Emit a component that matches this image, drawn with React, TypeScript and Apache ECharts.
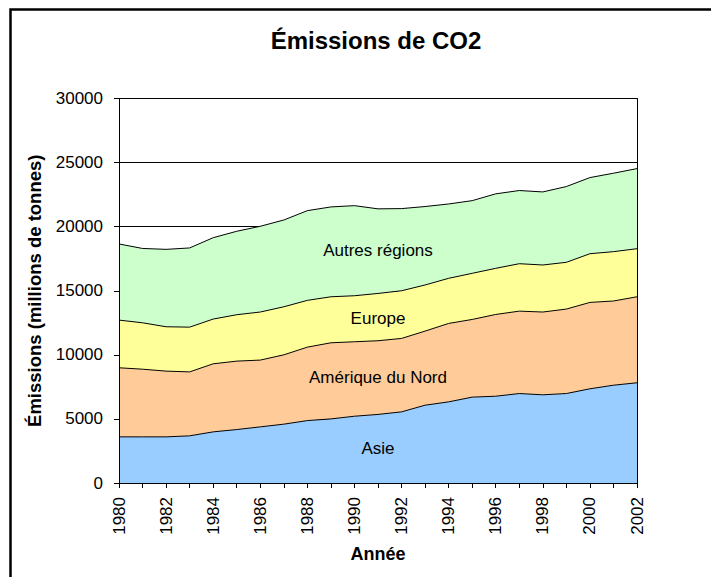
import React, { useEffect, useRef } from "react";
import * as echarts from "echarts";

const years = [
  "1980", "1981", "1982", "1983", "1984", "1985", "1986", "1987", "1988", "1989", "1990", "1991",
  "1992", "1993", "1994", "1995", "1996", "1997", "1998", "1999", "2000", "2001", "2002",
];

// Emissions per region (millions de tonnes), stacked in the chart
const asie = [
  3600, 3600, 3600, 3680, 3990, 4170, 4380, 4590, 4870, 5000, 5210, 5350,
  5550, 6070, 6330, 6700, 6770, 6980, 6880, 6980, 7350, 7630, 7820,
];
const ameriqueNord = [
  5390, 5280, 5130, 4990, 5310, 5340, 5210, 5410, 5730, 5940, 5810, 5750,
  5730, 5780, 6120, 6060, 6380, 6430, 6460, 6590, 6740, 6570, 6710,
];
const europe = [
  3720, 3620, 3460, 3490, 3490, 3620, 3750, 3750, 3650, 3590, 3590, 3690,
  3720, 3600, 3520, 3600, 3600, 3700, 3670, 3650, 3800, 3850, 3750,
];
const autres = [
  5940, 5800, 6040, 6180, 6350, 6510, 6690, 6770, 7000, 7010, 7030, 6600,
  6410, 6120, 5800, 5670, 5810, 5710, 5700, 5910, 5940, 6120, 6250,
];

const seriesNames = ["Asie", "Amérique du Nord", "Europe", "Autres régions"];
const seriesColors = ["#99CCFF", "#FFCC99", "#FFFF99", "#CCFFCC"];

// In-chart text annotations, anchored in data space (year, stacked value)
const areaLabelText = ["Autres régions", "Europe", "Amérique du Nord", "Asie"];
const areaLabelYear = ["1991", "1991", "1991", "1991"];
const areaLabelValue = [18150, 12800, 8200, 2700];

const FONT = "'Liberation Sans', Arial, sans-serif";

export default function App() {
  const ref = useRef<HTMLDivElement>(null);

  useEffect(() => {
    if (!ref.current) return;
    const chart = echarts.init(ref.current, undefined, { renderer: "svg" });
    const values = [asie, ameriqueNord, europe, autres];

    const frame = {
      type: "rect",
      shape: { x: 10.5, y: 9.5, width: 900, height: 800 },
      style: { fill: "none", stroke: "#000", lineWidth: 2.5 },
      z: 100,
    };
    const title = {
      type: "text",
      x: 376,
      y: 40,
      style: {
        text: "Émissions de CO2",
        font: `bold 24px ${FONT}`,
        fill: "#000",
        textAlign: "center",
        textVerticalAlign: "middle",
      },
      z: 100,
    };

    const option: any = {
      animation: false,
      backgroundColor: "#fff",
      textStyle: { fontFamily: FONT },
      grid: { left: 119, right: 74, top: 98.5, bottom: 94, containLabel: false },
      xAxis: {
        type: "category",
        data: years,
        boundaryGap: false,
        z: 10,
        name: "Année",
        nameLocation: "middle",
        nameGap: 62,
        nameTextStyle: { fontSize: 18, fontWeight: "bold", color: "#000", fontFamily: FONT },
        axisLine: { show: true, lineStyle: { color: "#000", width: 1 } },
        axisTick: { show: true, interval: 0, length: 5, lineStyle: { color: "#000" } },
        axisLabel: {
          interval: 1,
          rotate: 90,
          margin: 14,
          fontSize: 17,
          color: "#000",
          fontFamily: FONT,
        },
        splitLine: { show: false },
      },
      yAxis: [
        {
          type: "value",
          min: 0,
          max: 30000,
          interval: 5000,
          z: 0,
          axisLine: { show: false },
          axisTick: { show: false },
          axisLabel: { show: false },
          splitLine: { show: true, lineStyle: { color: "#000", width: 1 } },
        },
        {
          type: "value",
          position: "left",
          min: 0,
          max: 30000,
          interval: 5000,
          z: 10,
          name: "Émissions (millions de tonnes)",
          nameLocation: "middle",
          nameGap: 75,
          nameRotate: 90,
          nameTextStyle: { fontSize: 18.5, fontWeight: "bold", color: "#000", fontFamily: FONT },
          axisLine: { show: true, lineStyle: { color: "#000", width: 1 } },
          axisTick: { show: true, length: 5, lineStyle: { color: "#000" } },
          axisLabel: {
            margin: 16,
            fontSize: 17,
            color: "#000",
            fontFamily: FONT,
            formatter: (v: number) => String(v),
          },
          splitLine: { show: false },
        },
        {
          type: "value",
          position: "right",
          min: 0,
          max: 30000,
          interval: 5000,
          z: 10,
          axisLine: { show: true, lineStyle: { color: "#000", width: 1 } },
          axisTick: { show: false },
          axisLabel: { show: false },
          splitLine: { show: false },
        },
      ],
      series: seriesNames.map((name, i) => ({
        name,
        type: "line",
        stack: "total",
        yAxisIndex: 0,
        data: values[i],
        symbol: "none",
        smooth: false,
        lineStyle: { color: "#000", width: 1 },
        areaStyle: { color: seriesColors[i], opacity: 1 },
        itemStyle: { color: seriesColors[i] },
        z: 2,
      })),
      graphic: [frame, title],
    };

    chart.setOption(option);

    const labels = areaLabelText.map((text, i) => {
      const p = chart.convertToPixel({ xAxisIndex: 0, yAxisIndex: 0 }, [
        areaLabelYear[i],
        areaLabelValue[i],
      ]) as number[];
      return {
        type: "text",
        x: p[0],
        y: p[1],
        style: {
          text,
          font: `17px ${FONT}`,
          fill: "#000",
          textAlign: "center",
          textVerticalAlign: "middle",
        },
        z: 50,
      };
    });
    chart.setOption({ graphic: [frame, title, ...labels] });

    return () => chart.dispose();
  }, []);

  return (
    <div
      ref={ref}
      style={{ position: "fixed", left: 0, top: 0, width: 711, height: 577, background: "#fff" }}
    />
  );
}
